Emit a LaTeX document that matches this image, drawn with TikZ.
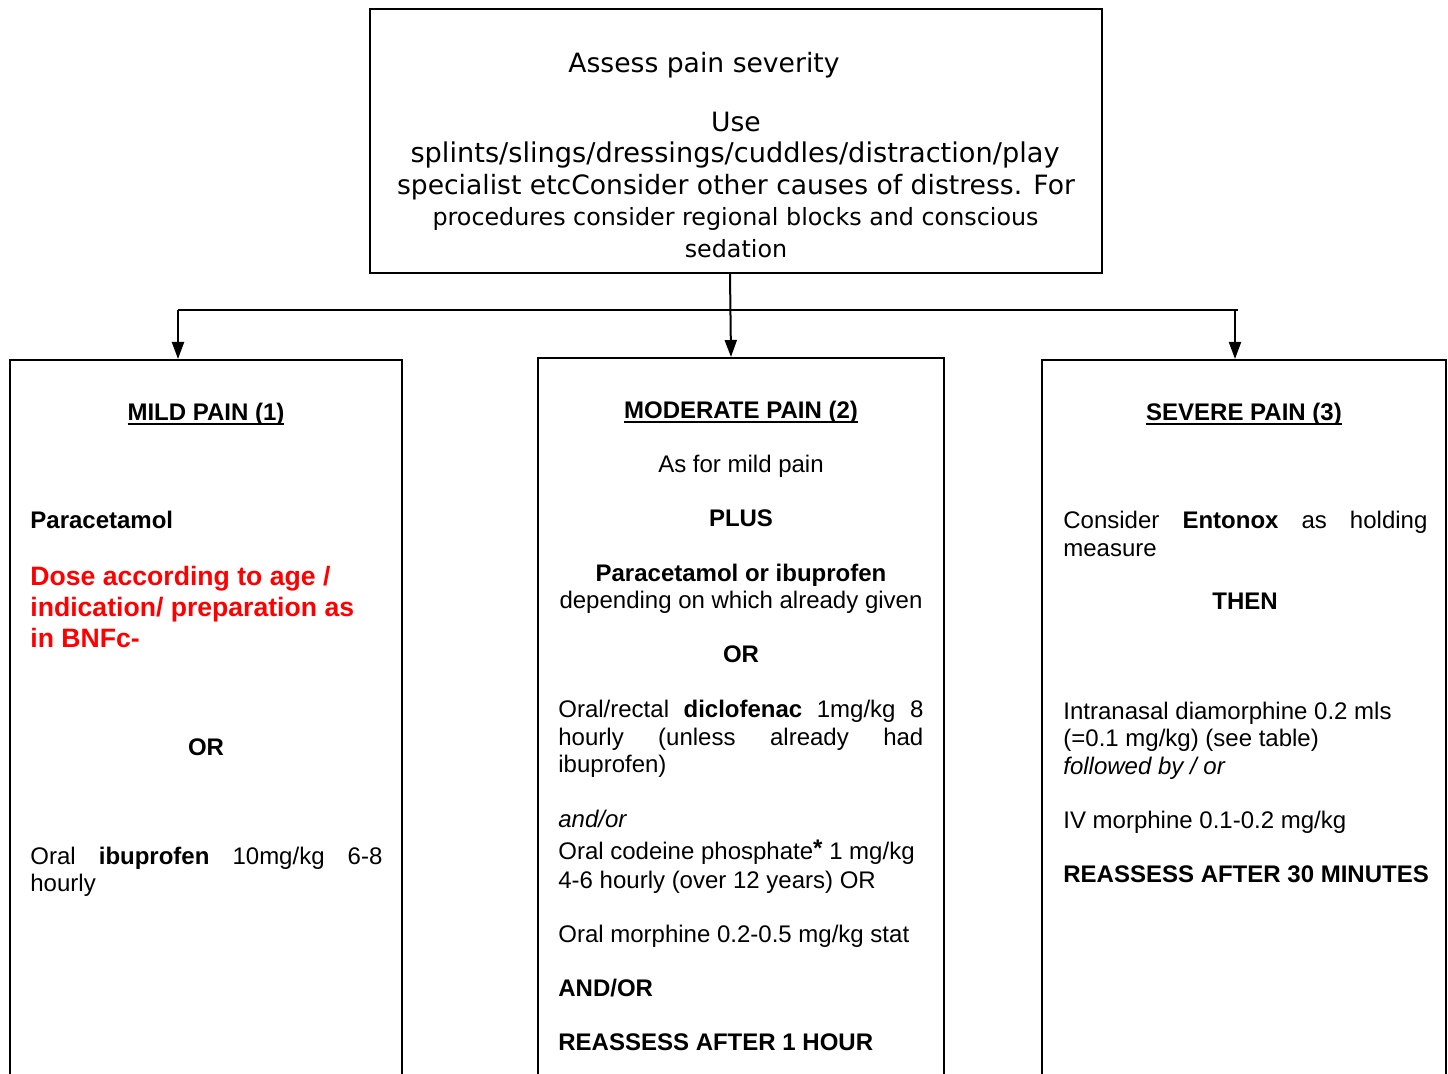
\documentclass[tikz,border=0pt]{standalone}
\usepackage{fontspec}
\setmainfont{Liberation Sans}
\newfontfamily\topfont{DejaVu Sans}
\usetikzlibrary{arrows.meta,fit}
\definecolor{doseRed}{RGB}{255,0,0}
\newcommand\ulbox[1]{\setbox0\hbox{#1}\rlap{\vrule height -1.0pt depth 2.0pt width \wd0}\box0}
\begin{document}
\begin{tikzpicture}[x=0.5pt,y=-0.5pt,
  boxframe/.style={draw, line width=1pt, inner sep=0pt},
  conn/.style={line width=1pt},
  arr/.style={line width=1pt, -{Triangle[length=8.5pt,width=6pt]}},
  toptext/.style={anchor=base, inner sep=0pt, font=\topfont\fontsize{13.3}{15.75}\selectfont},
  topsmall/.style={anchor=base, inner sep=0pt, font=\topfont\fontsize{11.9}{15.75}\selectfont},
  tl/.style={anchor=base west, inner sep=0pt, font=\fontsize{12}{13.8}\selectfont},
  tc/.style={anchor=base, inner sep=0pt, font=\fontsize{12}{13.8}\selectfont},
  redl/.style={anchor=base west, inner sep=0pt, text=doseRed, font=\fontsize{13.3}{15.5}\selectfont\bfseries}]
\useasboundingbox (0,0) rectangle (1448,1074);

% boxes
\node[boxframe, fit={(370,9) (1102,273)}] (top) {};
\node[boxframe, fit={(10,360) (402,1095)}] (mild) {};
\node[boxframe, fit={(538,358) (944,1095)}] (moderate) {};
\node[boxframe, fit={(1042,360) (1446,1095)}] (severe) {};

% connectors
\coordinate (hubL) at (178,310);
\coordinate (hubR) at (1238,310);
\coordinate (hubRa) at (1235,310);
\draw[conn] (hubL) -- (hubR);
\draw[arr] (top.south -| 730,0) -- (moderate.north -| 731,0);
\draw[arr] (hubL) -- (mild.north -| hubL);
\draw[arr] (hubRa) -- (severe.north -| hubRa);

% top text
\node[toptext] (t1) at (704,73) {Assess pain severity};
\node[toptext] (t2) at (736,131.5) {Use};
\node[toptext, font=\topfont\fontsize{13.6}{15.75}\selectfont] (t3) at (735,163) {splints/slings/dressings/cuddles/distraction/play};
\node[toptext] (t4) at (736,194.5) {specialist etcConsider other causes of distress. For};
\node[topsmall] (t5) at (735.5,226) {procedures consider regional blocks and conscious};
\node[topsmall] (t6) at (736,257.5) {sedation};

% mild
\node[tc] (m1) at (206,421) {\bfseries\ulbox{MILD PAIN (1)}};
\node[tl] (m2) at (30,529) {\bfseries Paracetamol};
\node[redl] (m3) at (30,586) {Dose according to age /};
\node[redl] (m4) at (30,617) {indication/ preparation as};
\node[redl] (m5) at (30,648) {in BNFc-};
\node[tc] (m6) at (206,756) {\bfseries OR};
\node[tl] (m7) at (30,865) {\makebox[176pt][s]{Oral \textbf{ibuprofen} 10mg/kg 6-8}};
\node[tl] (m8) at (30,892) {hourly};

% moderate
\node[tc] (d1) at (741,419) {\bfseries\ulbox{MODERATE PAIN (2)}};
\node[tc] (d2) at (741,473) {As for mild pain};
\node[tc] (d3) at (741,527) {\bfseries PLUS};
\node[tc] (d4) at (741,582) {\bfseries Paracetamol or ibuprofen};
\node[tc] (d5) at (741,609) {depending on which already given};
\node[tc] (d6) at (741,663) {\bfseries OR};
\node[tl] (d7) at (558,718) {\makebox[182.5pt][s]{Oral/rectal \textbf{diclofenac} 1mg/kg 8}};
\node[tl] (d8) at (558,746) {\makebox[182.5pt][s]{hourly (unless already had}};
\node[tl] (d9) at (558,773) {ibuprofen)};
\node[tl] (d10) at (558,828) {\itshape and/or};
\node[tl] (d11) at (558,860) {Oral codeine phosphate\raisebox{1.5pt}{\bfseries *} 1 mg/kg};
\node[tl] (d12) at (558,889) {4-6 hourly (over 12 years) OR};
\node[tl] (d13) at (558,943) {Oral morphine 0.2-0.5 mg/kg stat};
\node[tl] (d14) at (558,997) {\bfseries AND/OR};
\node[tl] (d15) at (558,1051) {\bfseries REASSESS AFTER 1 HOUR};

% severe
\node[tc] (s1) at (1244,421) {\bfseries\ulbox{SEVERE PAIN (3)}};
\node[tl] (s2) at (1063,529) {\makebox[182pt][s]{Consider \textbf{Entonox} as holding}};
\node[tl] (s3) at (1063,557) {measure};
\node[tc] (s4) at (1245,610) {\bfseries THEN};
\node[tl] (s5) at (1063,720) {Intranasal diamorphine 0.2 mls};
\node[tl] (s6) at (1063,747) {(=0.1 mg/kg) (see table)};
\node[tl] (s7) at (1063,775) {\itshape followed by / or};
\node[tl] (s8) at (1063,829) {IV morphine 0.1-0.2 mg/kg};
\node[tl] (s9) at (1063,883) {\bfseries REASSESS AFTER 30 MINUTES};
\end{tikzpicture}
\end{document}
